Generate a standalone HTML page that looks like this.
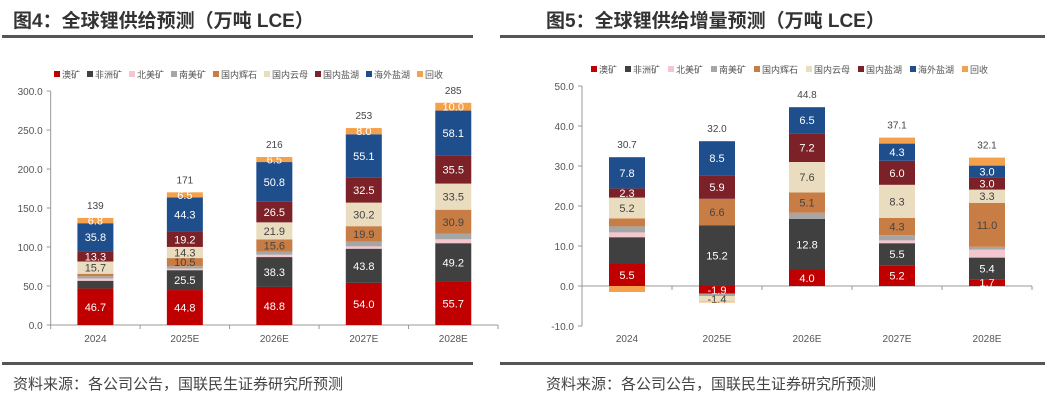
<!DOCTYPE html>
<html><head><meta charset="utf-8">
<style>
body{margin:0;width:1048px;height:404px;background:#fff;overflow:hidden;font-family:"Liberation Sans","Noto Sans CJK SC",sans-serif;}
.t{position:absolute;font-weight:bold;font-size:19px;color:#333;top:6px;}
.f{position:absolute;font-size:15px;color:#444;top:373px;}
.ln{position:absolute;height:3px;background:#555;}
</style></head><body>
<div class="t" style="left:13px">图4：全球锂供给预测（万吨 LCE）</div>
<div class="t" style="left:546px">图5：全球锂供给增量预测（万吨 LCE）</div>
<div class="ln" style="left:2px;width:471px;top:35px"></div>
<div class="ln" style="left:500px;width:545px;top:35px"></div>
<div class="ln" style="left:2px;width:471px;top:362px"></div>
<div class="ln" style="left:500px;width:545px;top:362px"></div>
<div class="f" style="left:13px">资料来源：各公司公告，国联民生证券研究所预测</div>
<div class="f" style="left:546px">资料来源：各公司公告，国联民生证券研究所预测</div>
<svg id="svg" width="1048" height="404" style="position:absolute;left:0;top:0"></svg>
<script>
const categories=["2024","2025E","2026E","2027E","2028E"];
const seriesNames=["澳矿","非洲矿","北美矿","南美矿","国内辉石","国内云母","国内盐湖","海外盐湖","回收"];
const colors=["#c00000","#404040","#f4c7cf","#a6a6a6","#c87d45","#eadcbf","#7b2127","#1f4e8c","#f5a04a"];
// left: supply
const leftValues=[
 [46.7,10,3,3,3,15.7,13.3,35.8,6.8],
 [44.8,25.5,2,3,10.5,14.3,19.2,44.3,6.5],
 [48.8,38.3,3,4,15.6,21.9,26.5,50.8,6.5],
 [54.0,43.8,3,6,19.9,30.2,32.5,55.1,8.0],
 [55.7,49.2,5,7,30.9,33.5,35.5,58.1,10.0]];
const leftShown=[
 [1,0,0,0,0,1,1,1,1],[1,1,0,0,1,1,1,1,1],[1,1,0,0,1,1,1,1,1],[1,1,0,0,1,1,1,1,1],[1,1,0,0,1,1,1,1,1]];
const leftTotals=["139","171","216","253","285"];
const leftTicks=[0,50,100,150,200,250,300];
// right: increment
const rightValues=[
 [5.5,6.7,1.2,1.5,2,5.2,2.3,7.8,-1.5],
 [-1.9,15.2,0,-0.6,6.6,-1.4,5.9,8.5,-0.2],
 [4.0,12.8,0,1.5,5.1,7.6,7.2,6.5,0],
 [5.2,5.5,0.7,1.3,4.3,8.3,6.0,4.3,1.5],
 [1.7,5.4,2,0.7,11.0,3.3,3.0,3.0,2]];
const rightShown=[
 [1,0,0,0,0,1,1,1,0],[1,1,0,0,1,1,1,1,0],[1,1,0,0,1,1,1,1,0],[1,1,0,0,1,1,1,1,0],[1,1,0,0,1,1,1,1,0]];
const rightTotals=["30.7","32.0","44.8","37.1","32.1"];
const rightTicks=[-10,0,10,20,30,40,50];

const svg=document.getElementById('svg');
const NS='http://www.w3.org/2000/svg';
function mk(tag,attrs,parent){const e=document.createElementNS(NS,tag);for(const k in attrs)e.setAttribute(k,attrs[k]);(parent||svg).appendChild(e);return e;}
function txt(x,y,s,size,fill,anchor,parent){const e=mk('text',{x:x,y:y,'font-size':size,fill:fill,'text-anchor':anchor||'middle','font-family':'"Liberation Sans","Noto Sans CJK SC",sans-serif'},parent);e.textContent=s;return e;}

function draw(cfg,values,shown,totals,ticks){
  const g=mk('g',{});
  
  
  const yMin=ticks[0],yMax=ticks[ticks.length-1];
  const y=v=>cfg.y0+(v-yMin)/(yMax-yMin)*(cfg.y1-cfg.y0);
  const step=(cfg.xR-cfg.xL)/categories.length;
  const xc=i=>cfg.xL+step*(i+0.5);
  const bw=36;
  // axes
  const ya=mk('line',{x1:cfg.xL,x2:cfg.xL,y1:y(yMin),y2:y(yMax),stroke:'#999','stroke-width':1},g);
  
  ticks.forEach(t=>{
    mk('line',{x1:cfg.xL-4,x2:cfg.xL,y1:y(t),y2:y(t),stroke:'#999'},g);
    const l=txt(cfg.xL-8,y(t)+4,t.toFixed(1),10,'#555','end',g);
    
  });
  const xa=mk('line',{x1:cfg.xL,x2:cfg.xR,y1:y(0),y2:y(0),stroke:'#999'},g);
  
  for(let i=0;i<=categories.length;i++)mk('line',{x1:cfg.xL+step*i,x2:cfg.xL+step*i,y1:y(0),y2:y(0)+4,stroke:'#999'},g);
  categories.forEach((c,i)=>{
    const l=txt(xc(i),cfg.labelY,c,10,'#555','middle',g);
    
    let pos=0,neg=0,top=0;
    values[i].forEach((v,s)=>{
      let a,b;
      if(v>=0){a=pos;b=pos+v;pos=b;}else{a=neg;b=neg+v;neg=b;}
      if(v===0)return;
      const r=mk('rect',{x:xc(i)-bw/2,y:Math.min(y(a),y(b)),width:bw,height:Math.abs(y(a)-y(b)),fill:colors[s]},g);
      
      if(shown[i][s]){
        const dark=[0,1,6,7].includes(s);
        const lab=txt(xc(i),(y(a)+y(b))/2+4,v.toFixed(1),11,(dark||s===8)?'#fff':'#444','middle',g);
        
      }
    });
    const tl=txt(xc(i),y(pos)-9,totals[i],10,'#444','middle',g);
    
  });
  // legend
  const lg=mk('g',{},g);
  
  let x=cfg.legX;
  seriesNames.forEach((n,s)=>{
    const it=mk('g',{},lg);
    
    mk('rect',{x:x,y:cfg.legY-4,width:6,height:6,fill:colors[s]},it);
    txt(x+8,cfg.legY+3,n,9,'#555','start',it);
    x+=8+n.length*9+cfg.legGap;
  });
}
draw({name:'left-chart',xL:152/3,xR:498,y0:325,y1:91,labelY:342,legX:54,legY:75,legGap:7},leftValues,leftShown,leftTotals,leftTicks);
draw({name:'right-chart',xL:582,xR:1032,y0:326,y1:86,labelY:342,legX:591,legY:70,legGap:8},rightValues,rightShown,rightTotals,rightTicks);
</script>
</body></html>
